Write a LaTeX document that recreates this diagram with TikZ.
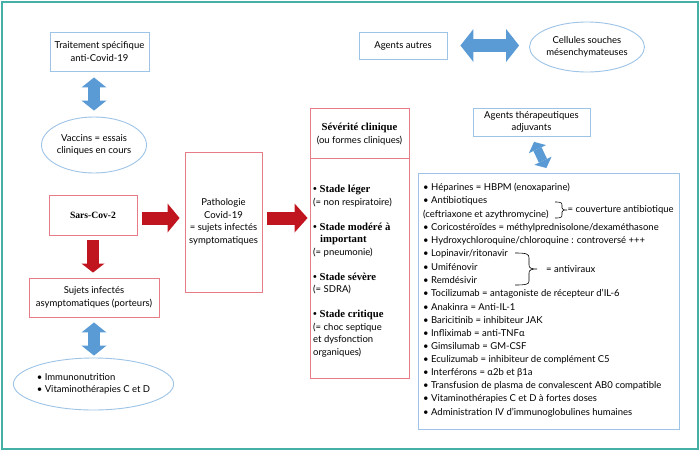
\documentclass[tikz,border=0pt]{standalone}
\usepackage{fontspec}
\setmainfont{Lato}
\newfontfamily\titlefont{Liberation Serif}
\usetikzlibrary{arrows.meta,shapes.geometric}

\definecolor{framecol}{HTML}{45B0A6}
\definecolor{boxblue}{HTML}{9DC3E6}
\definecolor{boxred}{HTML}{E57C88}
\definecolor{arrblue}{HTML}{5B9BD5}
\definecolor{arrred}{HTML}{C0151F}

\newcommand{\stadefont}{\titlefont\bfseries\fontsize{10.7}{12.5}\selectfont}

\tikzset{
  txt/.style={font=\fontsize{9.5}{12.5}\selectfont},
  bluebox/.style={txt, draw=boxblue, line width=0.9pt, align=center, inner sep=1pt},
  redbox/.style={txt, draw=boxred, line width=0.9pt, align=center, inner sep=1pt},
  blueoval/.style={txt, ellipse, draw=boxblue, line width=0.9pt, align=center, inner sep=0pt},
  bigarr/.style args={#1/#2/#3/#4}{draw=#1, line width=#2,
    arrows={Triangle[width=#3,length=#4,line width=0pt]-Triangle[width=#3,length=#4,line width=0pt]}},
  onearr/.style args={#1/#2/#3/#4}{draw=#1, line width=#2,
    arrows={-Triangle[width=#3,length=#4,line width=0pt]}},
}

\begin{document}
\begin{tikzpicture}[x=1pt,y=-1pt]
\useasboundingbox (0,0) rectangle (700,450);
\draw[framecol, line width=2pt] (1.5,1.5) rectangle (697.5,448.5);

% left column
\node[bluebox, minimum width=99pt, minimum height=39pt] (trait) at (99.5,51.5) {Traitement spécifique\\anti-Covid-19};
\node[blueoval, minimum width=102pt, minimum height=56pt] (vacc) at (94,145) {Vaccins = essais\\cliniques en cours};
\node[redbox, minimum width=88pt, minimum height=40pt, font=\titlefont\bfseries\fontsize{9.6}{12}\selectfont] (sars) at (93,215) {Sars-Cov-2};
\node[redbox, minimum width=130pt, minimum height=39pt] (asym) at (94,297.5) {Sujets infectés\\asymptomatiques (porteurs)};
\node[blueoval, minimum width=147pt, minimum height=52pt, align=left] (immu) at (93.5,384) {• Immunonutrition\\• Vitaminothérapies C et D};

% middle
\node[redbox, minimum width=77pt, minimum height=140pt] (patho) at (223.5,222) {Pathologie\\Covid-19\\= sujets infectés\\symptomatiques};
\node[redbox, minimum width=99pt, minimum height=270pt] (sev) at (359.5,243) {};
\draw[boxred, line width=0.9pt] (sev.west |- 0,158) -- (sev.east |- 0,158);
\node[txt, align=center] (sevtitle) at (359.5,134) {{\stadefont Sévérité clinique}\\(ou formes cliniques)};
\node[txt, anchor=north west, align=left, inner sep=0pt] (sevtxt) at (313,185) {%
  {\stadefont • Stade léger}\\%
  (= non respiratoire)\\[12.5pt]%
  {\stadefont • Stade modéré à}\\%
  \hspace*{7pt}{\stadefont important}\\%
  (= pneumonie)\\[12.5pt]%
  {\stadefont • Stade sévère}\\%
  (= SDRA)\\[12.5pt]%
  {\stadefont • Stade critique}\\%
  (= choc septique\\%
  et dysfonction\\%
  organiques)};

% right column
\node[bluebox, minimum width=88pt, minimum height=27pt] (autres) at (403,45.5) {Agents autres};
\node[blueoval, minimum width=110pt, minimum height=50pt] (cell) at (587,47) {Cellules souches\\mésenchymateuses};
\node[bluebox, minimum width=117pt, minimum height=28pt] (adj) at (531.5,122) {Agents thérapeutiques\\adjuvants};
\node[bluebox, minimum width=261pt, minimum height=256pt] (list) at (548.5,301) {};

\foreach \item [count=\i] in {
  • Héparines = HBPM (enoxaparine),
  • Antibiotiques,
  (ceftriaxone et azythromycine),
  • Coricostéroïdes = méthylprednisolone/dexaméthasone,
  • Hydroxychloroquine/chloroquine : controversé +++,
  • Lopinavir/ritonavir,
  • Umifénovir,
  • Remdésivir,
  • Tocilizumab = antagoniste de récepteur d’IL-6,
  • Anakinra = Anti-IL-1,
  • Baricitinib = inhibiteur JAK,
  • Infliximab = anti-TNFα,
  • Gimsilumab = GM-CSF,
  • Eculizumab = inhibiteur de complément C5,
  • Interférons = α2b et β1a,
  • Transfusion de plasma de convalescent AB0 compatible,
  • Vitaminothérapies C et D à fortes doses,
  • Administration IV d’immunoglobulines humaines}
  \node[txt, anchor=west, inner sep=0pt] (l\i) at (423,{188+13.2*(\i-1)}) {\item};

% braces
\draw[line width=0.6pt] (555,202) .. controls (562,202) and (562,203) .. (562,206) -- (562,208)
  .. controls (562,210) and (564,210) .. (567,210) .. controls (564,210) and (562,210) .. (562,212)
  -- (562,214) .. controls (562,217) and (562,218) .. (555,218);
\node[txt, anchor=west, inner sep=0pt] (couv) at (567.5,210) {= couverture antibiotique};
\draw[line width=0.6pt] (515,253) .. controls (527,253) and (529,254) .. (529,258) -- (529,265)
  .. controls (529,268) and (531,269) .. (537,269) .. controls (531,269) and (529,270) .. (529,273)
  -- (529,281) .. controls (529,284) and (527,285) .. (515,285);
\node[txt, anchor=west, inner sep=0pt] (antivir) at (546,269) {= antiviraux};

% arrows
\draw[bigarr=arrblue/12pt/25pt/10pt, shorten <=6pt, shorten >=6pt] (vacc.north |- trait.south) -- (vacc.north);
\draw[bigarr=arrblue/12pt/25pt/10pt, shorten <=5pt, shorten >=2pt] (asym.south) -- (asym.south |- immu.north);
\draw[bigarr=arrblue/13pt/33pt/13pt, shorten <=13pt, shorten >=10pt] (autres.east) -- (autres.east -| cell.west);
\draw[bigarr=arrblue/9pt/19pt/8pt, shorten <=6pt, shorten >=5pt] (adj.south) -- (list.north);
\draw[onearr=arrred/13pt/29pt/12pt, shorten <=5pt, shorten >=5pt] ([yshift=-3pt]sars.east) -- ([yshift=-3pt]sars.east -| patho.west);
\draw[onearr=arrred/13pt/29pt/13pt, shorten <=5pt, shorten >=2pt] ([yshift=4pt]patho.east) -- ([yshift=4pt]patho.east -| sev.west);
\draw[onearr=arrred/12pt/23pt/9pt, shorten <=5pt, shorten >=5pt] (sars.south) -- (sars.south |- asym.north);
\end{tikzpicture}
\end{document}
